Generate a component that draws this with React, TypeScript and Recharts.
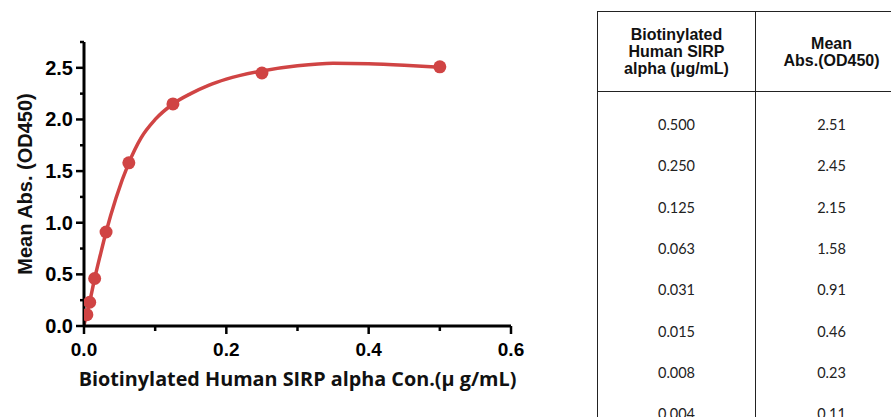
import React from "react";
import {
  ComposedChart,
  Line,
  Scatter,
  XAxis,
  YAxis,
} from "recharts";

// measured points (same numbers as the table)
const concentrations = [0.5, 0.25, 0.125, 0.063, 0.031, 0.015, 0.008, 0.004];
const concLabels = ["0.500", "0.250", "0.125", "0.063", "0.031", "0.015", "0.008", "0.004"];
const meanAbs = [2.51, 2.45, 2.15, 1.58, 0.91, 0.46, 0.23, 0.11];

// fitted curve
const fitX = [0, 0.004, 0.008, 0.015, 0.023, 0.031, 0.045, 0.063, 0.08, 0.1, 0.125, 0.15, 0.175, 0.2, 0.25, 0.3, 0.35, 0.4, 0.45, 0.5];
const fitY = [0.01, 0.12, 0.235, 0.46, 0.69, 0.91, 1.24, 1.58, 1.82, 2.0, 2.15, 2.25, 2.33, 2.39, 2.47, 2.52, 2.545, 2.54, 2.525, 2.505];

const xTicks = [0, 0.1, 0.2, 0.3, 0.4, 0.5, 0.6];
const yTicks = [0, 0.25, 0.5, 0.75, 1, 1.25, 1.5, 1.75, 2, 2.25, 2.5, 2.75];

const RED = "#d04444";
const tickFont = { fontFamily: "'Liberation Sans', Arial, sans-serif", fontWeight: 700, fontSize: 20 };

const points = concentrations.map((x, i) => ({ x, y: meanAbs[i] }));
const curve = fitX.map((x, i) => ({ x, y: fitY[i] }));

function YTick(props: any) {
  const { x, y, payload, index } = props;
  const major = index % 2 === 0;
  return (
    <g>
      <line x1={x + 3 + (major ? 0 : 4)} x2={x + 11} y1={y} y2={y} stroke="#000" strokeWidth={2.5} />
      {major && (
        <text x={x} y={y} dy={7} textAnchor="end" fill="#000" style={tickFont}>
          {payload.value.toFixed(1)}
        </text>
      )}
    </g>
  );
}

function XTick(props: any) {
  const { x, y, payload, index } = props;
  const major = index % 2 === 0;
  return (
    <g>
      <line x1={x} x2={x} y1={y - 16} y2={y - 16 + (major ? 8 : 5)} stroke="#000" strokeWidth={2.5} />
      {major && (
        <text x={x} y={y} dy={14} textAnchor="middle" fill="#000" style={{ ...tickFont, fontSize: 19 }}>
          {payload.value.toFixed(1)}
        </text>
      )}
    </g>
  );
}

function Dot(props: any) {
  const { cx, cy } = props;
  return <circle cx={cx} cy={cy} r={6.5} fill={RED} />;
}

const cellBorder = "1.5px solid #222";
const headFont = { fontFamily: "'Liberation Sans', Arial, sans-serif", fontWeight: 700, fontSize: 16, lineHeight: "17px", color: "#111" };
const bodyFont = { fontFamily: "Lato, 'Open Sans', sans-serif", fontSize: 14.5, color: "#222" };

export default function App() {
  return (
    <div style={{ position: "absolute", left: 0, top: 0, width: 891, height: 417, overflow: "hidden", background: "#fff" }}>
      <ComposedChart
        width={560}
        height={417}
        margin={{ top: 42, right: 49, bottom: 0, left: 0 }}
      >
        <XAxis
          type="number"
          dataKey="x"
          domain={[0, 0.6]}
          ticks={xTicks}
          allowDataOverflow
          height={91}
          tickSize={8}
          tickMargin={8}
          tickLine={false}
          tick={<XTick />}
          axisLine={{ stroke: "#000", strokeWidth: 3 }}
          label={{
            value: "Biotinylated Human SIRP alpha Con.(μ g/mL)",
            position: "insideBottom",
            offset: 31,
            style: { fontFamily: "'Open Sans', sans-serif", fontWeight: 700, fontSize: 19.8, fill: "#111" },
          }}
        />
        <YAxis
          type="number"
          domain={[0, 2.75]}
          ticks={yTicks}
          allowDataOverflow
          width={84}
          tickSize={8}
          tickMargin={3}
          tickLine={false}
          tick={<YTick />}
          axisLine={{ stroke: "#000", strokeWidth: 3 }}
          label={{
            value: "Mean Abs. (OD450)",
            angle: -90,
            position: "insideLeft",
            offset: 25,
            style: { ...tickFont, textAnchor: "middle", fill: "#111" },
          }}
        />
        <Line
          data={curve}
          dataKey="y"
          type="monotone"
          stroke={RED}
          strokeWidth={3.5}
          dot={false}
          activeDot={false}
          isAnimationActive={false}
        />
        <Scatter data={points} dataKey="y" fill={RED} shape={<Dot />} isAnimationActive={false} />
      </ComposedChart>

      <table
        style={{
          position: "absolute",
          left: 597,
          top: 11,
          width: 310,
          borderCollapse: "collapse",
          tableLayout: "fixed",
        }}
      >
        <colgroup>
          <col style={{ width: 158 }} />
          <col style={{ width: 152 }} />
        </colgroup>
        <thead>
          <tr style={{ height: 80 }}>
            <th style={{ ...headFont, border: cellBorder, padding: 0, textAlign: "center" }}>
              Biotinylated
              <br />
              Human SIRP
              <br />
              alpha (μg/mL)
            </th>
            <th style={{ ...headFont, border: cellBorder, padding: 0, textAlign: "center" }}>
              Mean
              <br />
              Abs.(OD450)
            </th>
          </tr>
        </thead>
        <tbody>
          {concLabels.map((c, i) => (
            <tr key={c} style={{ height: i === 0 ? 53.7 : 41.3 }}>
              <td
                style={{
                  ...bodyFont,
                  borderLeft: cellBorder,
                  borderRight: cellBorder,
                  textAlign: "center",
                  padding: 0,
                  paddingTop: i === 0 ? 12.4 : 0,
                }}
              >
                {c}
              </td>
              <td
                style={{
                  ...bodyFont,
                  borderLeft: cellBorder,
                  borderRight: cellBorder,
                  textAlign: "center",
                  padding: 0,
                  paddingTop: i === 0 ? 12.4 : 0,
                }}
              >
                {meanAbs[i].toFixed(2)}
              </td>
            </tr>
          ))}
        </tbody>
      </table>
    </div>
  );
}
